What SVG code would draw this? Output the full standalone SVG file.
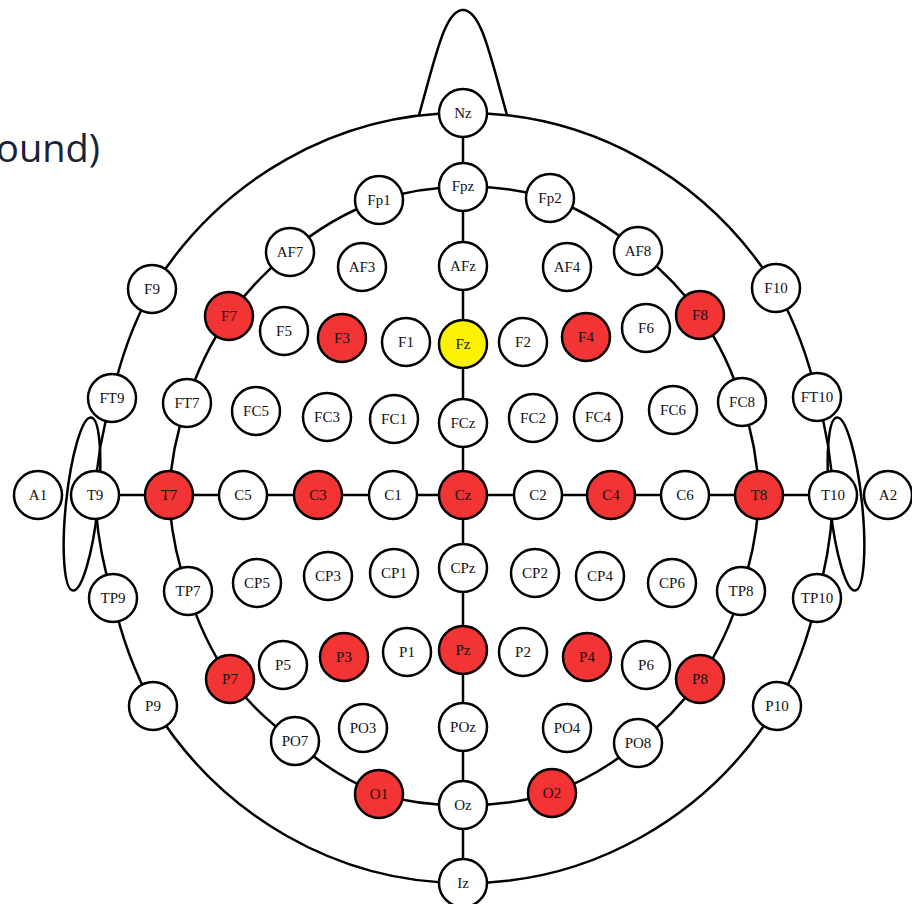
<svg xmlns="http://www.w3.org/2000/svg" width="912" height="904" viewBox="0 0 912 904">
<style>
.ln{fill:none;stroke:#000;stroke-width:2.5}
.n circle{stroke:#000;stroke-width:2.5;fill:#fff}
.n.r circle{fill:#f23434}
.n.y circle{fill:#fff200}
.n text{font-family:"Liberation Serif","Times New Roman",serif;font-size:15px;text-anchor:middle;fill:#111}
.title{font-family:"Open Sans","Noto Sans",sans-serif;font-size:38px;fill:#1a2238}
</style>
<rect width="912" height="904" fill="#fff"/>
<text class="title" x="100" y="162" text-anchor="end">ound)</text>
<g id="connectors">
<path class="ln" d="M419,115 C436,55 445,10 463,10 C481,10 490,55 507,115"/>
<ellipse class="ln" cx="82" cy="504" rx="16" ry="87" transform="rotate(6 82 504)"/>
<ellipse class="ln" cx="846" cy="504" rx="16" ry="87" transform="rotate(-6 846 504)"/>
<path class="ln" d="M463,113 A369,385 0 0 1 776,288 A369,385 0 0 1 817,397 A369,385 0 0 1 833,495 A369,385 0 0 1 817,598 A369,385 0 0 1 777,706 A369,385 0 0 1 463,883 A369,385 0 0 1 153,706 A369,385 0 0 1 113,598 A369,385 0 0 1 95,495 A369,385 0 0 1 112,398 A369,385 0 0 1 152,289 A369,385 0 0 1 463,113 Z"/>
<path class="ln" d="M463,187 A294,309 0 0 1 550,198 A294,309 0 0 1 638,251 A294,309 0 0 1 700,315 A294,309 0 0 1 742,402 A294,309 0 0 1 759,495 A294,309 0 0 1 741,591 A294,309 0 0 1 700,679 A294,309 0 0 1 638,743 A294,309 0 0 1 552,793 A294,309 0 0 1 463,805 A294,309 0 0 1 379,794 A294,309 0 0 1 295,741 A294,309 0 0 1 230,679 A294,309 0 0 1 188,591 A294,309 0 0 1 169,495 A294,309 0 0 1 187,403 A294,309 0 0 1 229,316 A294,309 0 0 1 290,252 A294,309 0 0 1 379,200 A294,309 0 0 1 463,187 Z"/>
<line class="ln" x1="463" y1="113" x2="463" y2="883"/>
<line class="ln" x1="95" y1="495" x2="833" y2="495"/>
</g>
<g id="Nz" class="n"><circle cx="463" cy="113" r="24"/><text x="463" y="118">Nz</text></g>
<g id="Fpz" class="n"><circle cx="463" cy="187" r="24"/><text x="463" y="191">Fpz</text></g>
<g id="Fp1" class="n"><circle cx="379" cy="200" r="24"/><text x="379" y="205">Fp1</text></g>
<g id="Fp2" class="n"><circle cx="550" cy="198" r="24"/><text x="550" y="203">Fp2</text></g>
<g id="AF7" class="n"><circle cx="290" cy="252" r="24"/><text x="290" y="257">AF7</text></g>
<g id="AF3" class="n"><circle cx="362" cy="267" r="24"/><text x="362" y="272">AF3</text></g>
<g id="AFz" class="n"><circle cx="463" cy="266" r="24"/><text x="463" y="271">AFz</text></g>
<g id="AF4" class="n"><circle cx="567" cy="267" r="24"/><text x="567" y="272">AF4</text></g>
<g id="AF8" class="n"><circle cx="638" cy="251" r="24"/><text x="638" y="256">AF8</text></g>
<g id="F9" class="n"><circle cx="152" cy="289" r="24"/><text x="152" y="294">F9</text></g>
<g id="F10" class="n"><circle cx="776" cy="288" r="24"/><text x="776" y="293">F10</text></g>
<g id="F7" class="n r"><circle cx="229" cy="316" r="24"/><text x="229" y="321">F7</text></g>
<g id="F5" class="n"><circle cx="284" cy="331" r="24"/><text x="284" y="336">F5</text></g>
<g id="F3" class="n r"><circle cx="342" cy="338" r="24"/><text x="342" y="343">F3</text></g>
<g id="F1" class="n"><circle cx="406" cy="342" r="24"/><text x="406" y="347">F1</text></g>
<g id="Fz" class="n y"><circle cx="463" cy="344" r="24"/><text x="463" y="349">Fz</text></g>
<g id="F2" class="n"><circle cx="523" cy="342" r="24"/><text x="523" y="347">F2</text></g>
<g id="F4" class="n r"><circle cx="586" cy="337" r="24"/><text x="586" y="342">F4</text></g>
<g id="F6" class="n"><circle cx="646" cy="328" r="24"/><text x="646" y="333">F6</text></g>
<g id="F8" class="n r"><circle cx="700" cy="315" r="24"/><text x="700" y="320">F8</text></g>
<g id="FT9" class="n"><circle cx="112" cy="398" r="24"/><text x="112" y="403">FT9</text></g>
<g id="FT7" class="n"><circle cx="187" cy="403" r="24"/><text x="187" y="408">FT7</text></g>
<g id="FC5" class="n"><circle cx="256" cy="411" r="24"/><text x="256" y="416">FC5</text></g>
<g id="FC3" class="n"><circle cx="327" cy="417" r="24"/><text x="327" y="422">FC3</text></g>
<g id="FC1" class="n"><circle cx="394" cy="419" r="24"/><text x="394" y="424">FC1</text></g>
<g id="FCz" class="n"><circle cx="463" cy="423" r="24"/><text x="463" y="428">FCz</text></g>
<g id="FC2" class="n"><circle cx="533" cy="418" r="24"/><text x="533" y="423">FC2</text></g>
<g id="FC4" class="n"><circle cx="598" cy="417" r="24"/><text x="598" y="422">FC4</text></g>
<g id="FC6" class="n"><circle cx="673" cy="410" r="24"/><text x="673" y="415">FC6</text></g>
<g id="FC8" class="n"><circle cx="742" cy="402" r="24"/><text x="742" y="407">FC8</text></g>
<g id="FT10" class="n"><circle cx="817" cy="397" r="24"/><text x="817" y="402">FT10</text></g>
<g id="A1" class="n"><circle cx="38" cy="495" r="24"/><text x="38" y="500">A1</text></g>
<g id="T9" class="n"><circle cx="95" cy="495" r="24"/><text x="95" y="500">T9</text></g>
<g id="T7" class="n r"><circle cx="169" cy="495" r="24"/><text x="169" y="500">T7</text></g>
<g id="C5" class="n"><circle cx="243" cy="495" r="24"/><text x="243" y="500">C5</text></g>
<g id="C3" class="n r"><circle cx="318" cy="495" r="24"/><text x="318" y="500">C3</text></g>
<g id="C1" class="n"><circle cx="393" cy="495" r="24"/><text x="393" y="500">C1</text></g>
<g id="Cz" class="n r"><circle cx="463" cy="495" r="24"/><text x="463" y="500">Cz</text></g>
<g id="C2" class="n"><circle cx="538" cy="495" r="24"/><text x="538" y="500">C2</text></g>
<g id="C4" class="n r"><circle cx="611" cy="495" r="24"/><text x="611" y="500">C4</text></g>
<g id="C6" class="n"><circle cx="685" cy="495" r="24"/><text x="685" y="500">C6</text></g>
<g id="T8" class="n r"><circle cx="759" cy="495" r="24"/><text x="759" y="500">T8</text></g>
<g id="T10" class="n"><circle cx="833" cy="495" r="24"/><text x="833" y="500">T10</text></g>
<g id="A2" class="n"><circle cx="888" cy="495" r="24"/><text x="888" y="500">A2</text></g>
<g id="TP9" class="n"><circle cx="113" cy="598" r="24"/><text x="113" y="603">TP9</text></g>
<g id="TP7" class="n"><circle cx="188" cy="591" r="24"/><text x="188" y="596">TP7</text></g>
<g id="CP5" class="n"><circle cx="257" cy="583" r="24"/><text x="257" y="588">CP5</text></g>
<g id="CP3" class="n"><circle cx="328" cy="576" r="24"/><text x="328" y="581">CP3</text></g>
<g id="CP1" class="n"><circle cx="394" cy="573" r="24"/><text x="394" y="578">CP1</text></g>
<g id="CPz" class="n"><circle cx="463" cy="568" r="24"/><text x="463" y="573">CPz</text></g>
<g id="CP2" class="n"><circle cx="535" cy="573" r="24"/><text x="535" y="578">CP2</text></g>
<g id="CP4" class="n"><circle cx="600" cy="576" r="24"/><text x="600" y="581">CP4</text></g>
<g id="CP6" class="n"><circle cx="672" cy="583" r="24"/><text x="672" y="588">CP6</text></g>
<g id="TP8" class="n"><circle cx="741" cy="591" r="24"/><text x="741" y="596">TP8</text></g>
<g id="TP10" class="n"><circle cx="817" cy="598" r="24"/><text x="817" y="603">TP10</text></g>
<g id="P9" class="n"><circle cx="153" cy="706" r="24"/><text x="153" y="711">P9</text></g>
<g id="P7" class="n r"><circle cx="230" cy="679" r="24"/><text x="230" y="684">P7</text></g>
<g id="P5" class="n"><circle cx="283" cy="665" r="24"/><text x="283" y="670">P5</text></g>
<g id="P3" class="n r"><circle cx="344" cy="657" r="24"/><text x="344" y="662">P3</text></g>
<g id="P1" class="n"><circle cx="407" cy="652" r="24"/><text x="407" y="657">P1</text></g>
<g id="Pz" class="n r"><circle cx="463" cy="650" r="24"/><text x="463" y="655">Pz</text></g>
<g id="P2" class="n"><circle cx="523" cy="652" r="24"/><text x="523" y="657">P2</text></g>
<g id="P4" class="n r"><circle cx="587" cy="657" r="24"/><text x="587" y="662">P4</text></g>
<g id="P6" class="n"><circle cx="646" cy="665" r="24"/><text x="646" y="670">P6</text></g>
<g id="P8" class="n r"><circle cx="700" cy="679" r="24"/><text x="700" y="684">P8</text></g>
<g id="P10" class="n"><circle cx="777" cy="706" r="24"/><text x="777" y="711">P10</text></g>
<g id="PO7" class="n"><circle cx="295" cy="741" r="24"/><text x="295" y="746">PO7</text></g>
<g id="PO3" class="n"><circle cx="363" cy="728" r="24"/><text x="363" y="733">PO3</text></g>
<g id="POz" class="n"><circle cx="463" cy="727" r="24"/><text x="463" y="732">POz</text></g>
<g id="PO4" class="n"><circle cx="567" cy="728" r="24"/><text x="567" y="733">PO4</text></g>
<g id="PO8" class="n"><circle cx="638" cy="743" r="24"/><text x="638" y="748">PO8</text></g>
<g id="O1" class="n r"><circle cx="379" cy="794" r="24"/><text x="379" y="799">O1</text></g>
<g id="Oz" class="n"><circle cx="463" cy="805" r="24"/><text x="463" y="810">Oz</text></g>
<g id="O2" class="n r"><circle cx="552" cy="793" r="24"/><text x="552" y="798">O2</text></g>
<g id="Iz" class="n"><circle cx="463" cy="883" r="24"/><text x="463" y="888">Iz</text></g>
</svg>
